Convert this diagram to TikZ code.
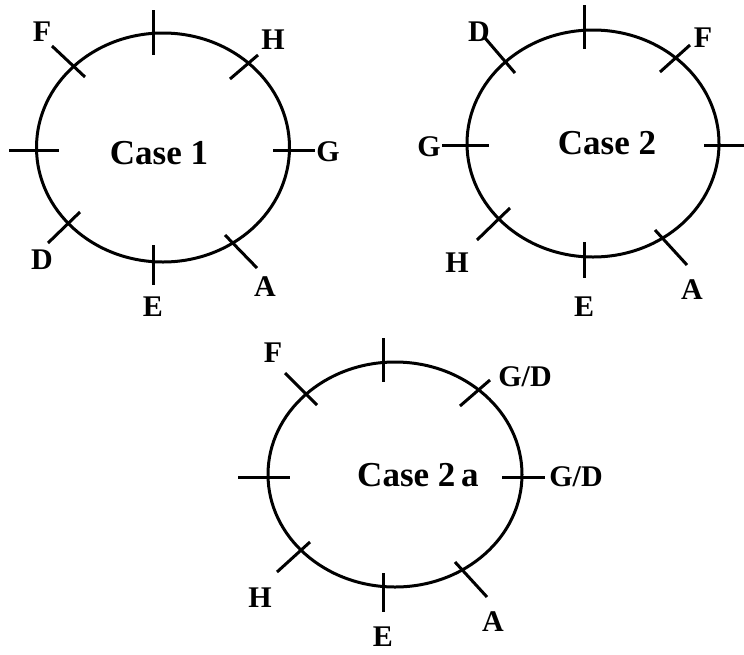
\documentclass[tikz,border=0pt]{standalone}
\usepackage{fontspec}
\setmainfont{Liberation Serif}
\usetikzlibrary{shapes.geometric}
\tikzset{
  ring/.style={draw, ellipse, line width=3pt, inner sep=0pt},
  tick/.style={line width=3pt},
  lab/.style={font=\fontsize{30}{30}\selectfont\bfseries, inner sep=0pt},
  title/.style={font=\fontsize{35}{35}\selectfont\bfseries, inner sep=0pt}
}
\begin{document}
\begin{tikzpicture}[x=1pt,y=-1pt]
\useasboundingbox (0,0) rectangle (744,654);
% ---------- Case 1 ----------
\node[ring, minimum width=253pt, minimum height=229pt] (c1) at (163,147.5) {};
\node[title] (t1) at (159,153) {Case 1};
\draw[tick] (153,10) -- (153,55);
\draw[tick] (52,46) -- (85,77);
\draw[tick] (230,79) -- (258,55);
\draw[tick] (9,150) -- (59,150);
\draw[tick] (273,150) -- (315,150);
\draw[tick] (48,243) -- (80,212);
\draw[tick] (153,245) -- (153,285);
\draw[tick] (225,235) -- (257,268);
\node[lab] (f1) at (42,32) {F};
\node[lab] (h1) at (273,40) {H};
\node[lab] (g1) at (328,152) {G};
\node[lab] (d1) at (42,260) {D};
\node[lab] (e1) at (153,307) {E};
\node[lab] (a1) at (265,287) {A};
% ---------- Case 2 ----------
\node[ring, minimum width=252pt, minimum height=227pt] (c2) at (593,143.5) {};
\node[title] (t2) at (607,143) {Case 2};
\draw[tick] (584,5) -- (584,49);
\draw[tick] (485,38) -- (515,73);
\draw[tick] (660,72) -- (690,45);
\draw[tick] (442,145) -- (489,145);
\draw[tick] (704,145) -- (744,145);
\draw[tick] (477,240) -- (510,208);
\draw[tick] (584,242) -- (584,278);
\draw[tick] (655,230) -- (687,265);
\node[lab] (d2) at (479,32) {D};
\node[lab] (f2) at (703,38) {F};
\node[lab] (g2) at (429,147) {G};
\node[lab] (h2) at (457,263) {H};
\node[lab] (e2) at (584,307) {E};
\node[lab] (a2) at (692,290) {A};
% ---------- Case 2a ----------
\node[ring, minimum width=254pt, minimum height=225pt] (c3) at (395,474.5) {};
\node[title] (t3) at (418,475) {Case 2\,a};
\draw[tick] (383,338) -- (383,382);
\draw[tick] (285,373) -- (317,405);
\draw[tick] (460,406) -- (490,380);
\draw[tick] (238,477) -- (290,477);
\draw[tick] (502,477) -- (545,477);
\draw[tick] (277,572) -- (310,542);
\draw[tick] (383,573) -- (383,612);
\draw[tick] (455,562) -- (487,597);
\node[lab] (f3) at (273,353) {F};
\node[lab] (gd3a) at (525,377) {G/D};
\node[lab] (gd3b) at (576,477) {G/D};
\node[lab] (h3) at (260,598) {H};
\node[lab] (e3) at (383,637) {E};
\node[lab] (a3) at (493,622) {A};
\end{tikzpicture}
\end{document}
